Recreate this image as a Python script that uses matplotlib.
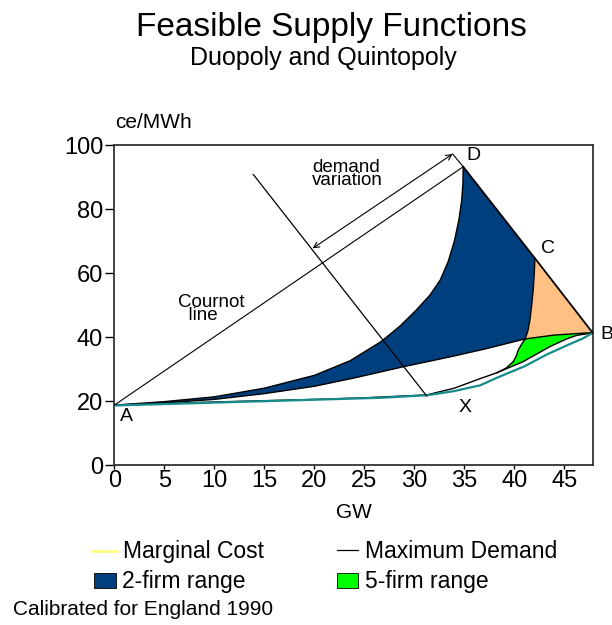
import matplotlib
matplotlib.use("Agg")
import matplotlib.pyplot as plt
from matplotlib.lines import Line2D
from matplotlib.patches import Rectangle
import numpy as np

plt.rcParams['font.family'] = ['Liberation Sans', 'DejaVu Sans']

# ---------------- data ----------------
# key points
A = (0.0, 18.7)
D = (34.9, 93.2)
C = (42.07, 64.6)
B = (47.85, 41.3)

# upper bound of 2-firm range (A -> D)
upper_x = [0, 5, 10, 15, 20, 23.6, 26.7, 28.57, 30.2, 31.57, 32.6, 33.4, 34.0, 34.47, 34.75, 34.87, 34.9]
upper_y = [18.7, 19.8, 21.3, 24.0, 28.0, 32.6, 38.6, 43.4, 48.4, 53.1, 57.8, 63.6, 69.8, 76.6, 82.8, 88.0, 93.2]

# lower bound of 2-firm range (A -> B)
lower_x = [0, 5, 10, 15, 20, 24, 28.9, 33.6, 37, 41.1, 44, 46.9, 47.85]
lower_y = [18.7, 19.4, 20.5, 22.3, 24.6, 27.2, 30.7, 33.8, 36.2, 39.4, 40.6, 41.2, 41.3]

# left edge of the orange area (C -> junction)
orange_x = [42.07, 42.0, 41.9, 41.75, 41.57, 41.37, 41.1]
orange_y = [64.6, 59.5, 54.7, 50.0, 45.3, 42.0, 39.4]

# left edge of the 5-firm range
green_x = [38.24, 39.2, 39.9, 40.2, 40.4, 40.75, 41.1]
green_y = [28.8, 30.3, 32.3, 34.0, 35.9, 37.8, 39.4]

# lowest supply function (A -> X -> B)
low_x = [0, 10, 20, 25, 31.24, 34, 36.6, 38.24, 40.9, 43.57, 45.24, 46.24, 47.85]
low_y = [18.7, 19.7, 20.5, 21.0, 21.9, 24.0, 27.0, 28.8, 32.3, 37.0, 39.4, 40.5, 41.3]

# marginal cost
mc_x = [0, 10, 20, 26.6, 31.3, 34, 36.6, 38.3, 41, 43.3, 45.5, 46.9, 47.85]
mc_y = [18.6, 19.5, 20.4, 21.0, 21.8, 23.1, 24.9, 27.3, 30.8, 34.6, 37.7, 39.6, 41.3]

# demand line and demand-variation arrow
demand_x = [13.9, 31.24]
demand_y = [90.8, 21.6]
arrow_from = (33.84, 97.2)
arrow_to = (19.84, 67.7)

xticks = [0, 5, 10, 15, 20, 25, 30, 35, 40, 45]
yticks = [0, 20, 40, 60, 80, 100]

BLUE = '#003F7D'
ORANGE = '#FFC083'
GREEN = '#00FF00'
TEAL = '#148C8C'

# ---------------- figure ----------------
W, H = 612, 625
fig = plt.figure(figsize=(W / 100, H / 100), dpi=100)

def fx(px):
    return px / W

def fy(py):
    return (H - py) / H

ax = fig.add_axes([fx(114.3), fy(465), (592.7 - 114.3) / W, (465 - 145) / H])
ax.set_xlim(0, 47.85)
ax.set_ylim(0, 100)

ux, uy = np.array(upper_x), np.array(upper_y)
lx, ly = np.array(lower_x), np.array(lower_y)
ox, oy = np.array(orange_x), np.array(orange_y)
gx, gy = np.array(green_x), np.array(green_y)
wx, wy = np.array(low_x), np.array(low_y)

jx = orange_x[-1]
left_part = lx <= jx + 1e-9
right_part = lx >= jx - 1e-9

# 2-firm range (blue)
bx = np.concatenate([ux, [C[0]], ox, lx[left_part][::-1]])
by = np.concatenate([uy, [C[1]], oy, ly[left_part][::-1]])
ax.fill(bx, by, color=BLUE, lw=0, zorder=2)

# orange area
orx = np.concatenate([ox, lx[right_part], [C[0]]])
ory = np.concatenate([oy, ly[right_part], [C[1]]])
ax.fill(orx, ory, color=ORANGE, lw=0, zorder=2)

# 5-firm range (green)
wr = wx >= gx[0] - 1e-9
grx = np.concatenate([gx, lx[right_part], wx[wr][::-1]])
gry = np.concatenate([gy, ly[right_part], wy[wr][::-1]])
ax.fill(grx, gry, color=GREEN, lw=0, zorder=2)

# boundary lines
lw_b = 1.0
kw = dict(color='black', lw=lw_b, zorder=3, solid_joinstyle='round')
ax.plot(ux, uy, **kw)
ax.plot(lx, ly, **kw)
ax.plot(ox, oy, **kw)
ax.plot(gx, gy, **kw)
ax.plot(wx, wy, **kw)
ax.plot(mc_x, mc_y, color=TEAL, lw=1.6, zorder=4, solid_joinstyle='round')

# maximum demand line D -> C -> B
ax.plot([D[0], C[0], B[0]], [D[1], C[1], B[1]], color='black', lw=1.3, zorder=4)
# Cournot line A -> D
ax.plot([A[0], D[0]], [A[1], D[1]], color='black', lw=0.8, zorder=4)
# demand line
ax.plot(demand_x, demand_y, color='black', lw=0.9, zorder=5)
# demand variation arrow
ax.annotate('', xy=arrow_to, xytext=arrow_from,
            arrowprops=dict(arrowstyle='<->', lw=0.8, color='black',
                            mutation_scale=10, shrinkA=0, shrinkB=0), zorder=5)
ax.plot([arrow_from[0], D[0]], [arrow_from[1], D[1]], color='black', lw=0.8, zorder=5)

# labels on the chart
tfs = 14
ax.text(0.57, 13.75, 'A', fontsize=tfs, va='baseline', ha='left')
ax.text(34.4, 16.6, 'X', fontsize=tfs, va='baseline', ha='left')
ax.text(48.6, 39.4, 'B', fontsize=tfs, va='baseline', ha='left', clip_on=False)
ax.text(42.64, 66.2, 'C', fontsize=tfs, va='baseline', ha='left')
ax.text(35.24, 95.3, 'D', fontsize=tfs, va='baseline', ha='left')
ax.text(6.37, 45.3, 'Cournot\n  line', fontsize=13.5, va='baseline', ha='left',
        multialignment='left', linespacing=0.72)
ax.text(19.77, 87.5, 'demand\nvariation', fontsize=13.5, va='baseline', ha='left',
        multialignment='left', linespacing=0.72)
ax.text(0.1, 105.3, 'ce/MWh', fontsize=15, va='baseline', ha='left', clip_on=False)

# axes styling
ax.set_xticks(xticks)
ax.set_yticks(yticks)
ax.tick_params(axis='y', direction='out', length=6.5, width=1.0, pad=1.5, labelsize=17)
ax.tick_params(axis='x', direction='out', length=3, width=1.0, pad=0.5, labelsize=17)
for s in ax.spines.values():
    s.set_color('#333333')
    s.set_linewidth(1.3)
ax.set_xlabel('GW', fontsize=15, labelpad=8)

# titles
fig.text(fx(331), fy(36), 'Feasible Supply Functions', fontsize=24, ha='center', va='baseline')
fig.text(fx(323), fy(65), 'Duopoly and Quintopoly', fontsize=18, ha='center', va='baseline')

# legend (drawn in figure coordinates)
lfs = 16.5
fig.add_artist(Line2D([fx(93), fx(117)], [fy(551), fy(551)], color='#FFFF80', lw=2))
fig.text(fx(123), fy(558), 'Marginal Cost', fontsize=lfs, va='baseline')
fig.add_artist(Line2D([fx(337), fx(358)], [fy(550), fy(550)], color='black', lw=0.9))
fig.text(fx(365), fy(558), 'Maximum Demand', fontsize=lfs, va='baseline')
fig.add_artist(Rectangle((fx(94), fy(588)), fx(116) - fx(94), fy(573) - fy(588),
                         facecolor=BLUE, edgecolor='black', lw=0.6))
fig.text(fx(122), fy(588), '2-firm range', fontsize=lfs, va='baseline')
fig.add_artist(Rectangle((fx(337), fy(588)), fx(358) - fx(337), fy(573) - fy(588),
                         facecolor=GREEN, edgecolor='black', lw=0.6))
fig.text(fx(365), fy(588), '5-firm range', fontsize=lfs, va='baseline')
fig.text(fx(13), fy(615), 'Calibrated for England 1990', fontsize=15, va='baseline')

fig.savefig('out.png', dpi=100)
